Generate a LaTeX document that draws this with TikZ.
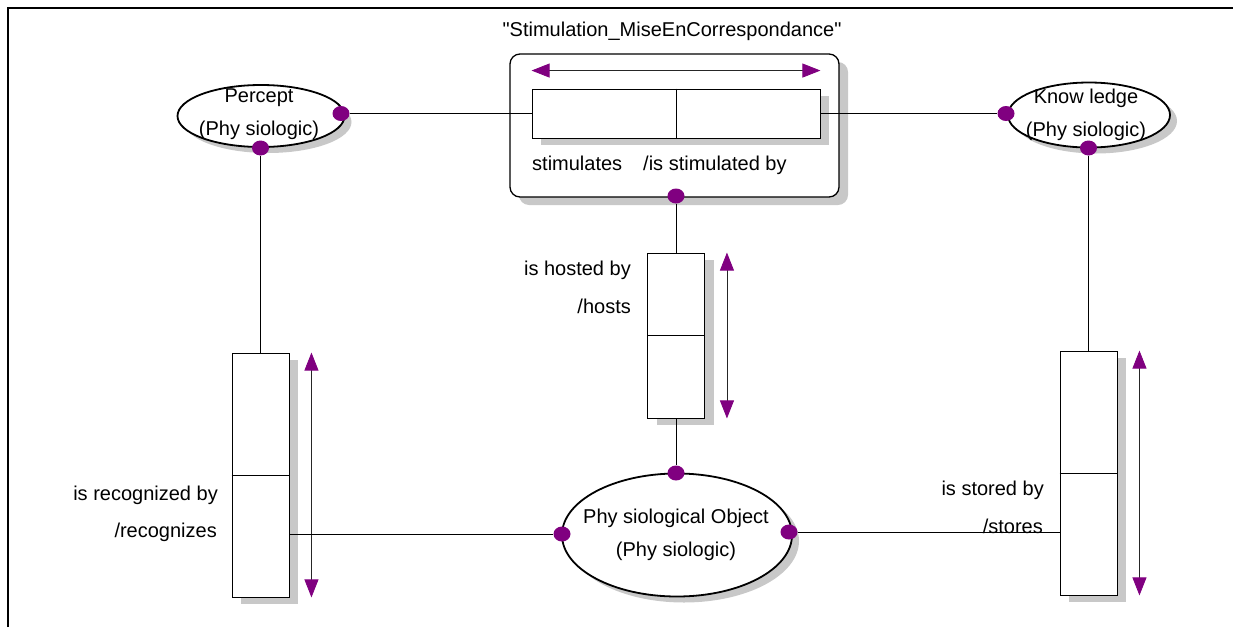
\documentclass[tikz,border=0pt]{standalone}
\usepackage{fontspec}
\setmainfont{Liberation Sans}
\usetikzlibrary{arrows.meta,positioning,calc,shapes.geometric,shadows}
\definecolor{RolePurple}{HTML}{800080}
\definecolor{ShadeGray}{HTML}{C8C8C8}

\begin{document}
\begin{tikzpicture}[
  x=1pt,y=-1pt,inner sep=0pt,
  font=\fontsize{20}{33}\selectfont,
  entity/.style={ellipse,draw,line width=1.8pt,fill=white,drop shadow={shadow xshift=7pt,shadow yshift=-6pt,fill=ShadeGray,opacity=1}},
  rolebox/.style={rectangle,draw,line width=0.9pt,fill=white,minimum width=57pt,drop shadow={shadow xshift=9pt,shadow yshift=-7pt,fill=ShadeGray,opacity=1}},
  stimframe/.style={rectangle,rounded corners=10pt,draw,line width=1.3pt,fill=white,minimum width=329pt,minimum height=143pt,drop shadow={shadow xshift=9pt,shadow yshift=-8pt,fill=ShadeGray,opacity=1}},
  joint/.style={ellipse,fill=RolePurple,minimum width=17pt,minimum height=15pt},
  link/.style={draw,line width=0.8pt},
  rolearrow/.style={{Triangle[length=18pt,width=14pt,color=RolePurple]}-{Triangle[length=18pt,width=14pt,color=RolePurple]},line width=0.8pt,draw=black!85}
]
\useasboundingbox (0,0) rectangle (1233,627);
\draw[line width=2.4pt] (8,627) -- (8,8) -- (1240,8);
\node[anchor=base] (title) at (672,36) {\textquotedbl Stimulation\_MiseEnCorrespondance\textquotedbl};
\node[stimframe] (stim) at (674.5,125.5) {};
\node[rolebox,minimum width=288pt,minimum height=49pt] (stimcell) at (676,113.5) {};
\draw[link] (stimcell.north) -- (stimcell.south);
\draw[rolearrow] ($(stimcell.north west)+(0,-18)$) -- ($(stimcell.north east)+(0,-18)$);
\node[anchor=base west] (stimtext) at (532,170) {stimulates\hspace{21pt}/is stimulated by};
\node[entity,minimum width=167pt,minimum height=62pt] (percept) at (261,116) {};
\node[align=center] (percepttext) at (259,114.5) {Percept\\(Phy siologic)};
\node[entity,minimum width=162pt,minimum height=65pt] (knowledge) at (1089,115) {};
\node[align=center] (knowledgetext) at (1086,114.5) {Know ledge\\(Phy siologic)};
\node[entity,minimum width=230pt,minimum height=123pt] (physio) at (677,535) {};
\node[align=center] (physiotext) at (676,535.3) {Phy siological Object\\(Phy siologic)};
\node[rolebox,minimum height=244pt] (recog) at (260.5,475) {};
\node[rolebox,minimum height=165pt] (host) at (676,335.5) {};
\node[rolebox,minimum height=244pt] (store) at (1088.5,473) {};
\foreach \b in {recog,host,store} {
  \draw[link] (\b.west) -- (\b.east);
  \draw[rolearrow] ($(\b.north east)+(22,0)$) -- ($(\b.south east)+(22,0)$);
}
\node[anchor=base east] (recogfwd) at (218,500) {is recognized by};
\node[anchor=base east] (recogrev) at (217,537) {/recognizes};
\node[anchor=base east] (hostfwd) at (631,275) {is hosted by};
\node[anchor=base east] (hostrev) at (631,313) {/hosts};
\node[anchor=base east] (storefwd) at (1044,495) {is stored by};
\node[anchor=base east] (storerev) at (1043,533) {/stores};
\node[joint] (perceptE) at (341,113.5) {};
\node[joint] (perceptS) at (260.5,148) {};
\node[joint] (knowledgeW) at (1006,113.5) {};
\node[joint] (knowledgeS) at (1088.5,148) {};
\node[joint] (stimS) at (676,196) {};
\node[joint] (physioN) at (676,473) {};
\node[joint] (physioW) at (562,534) {};
\node[joint] (physioE) at (789,532) {};
\draw[link] (perceptE) -- (stimcell.west); \draw[link] (stimcell.east) -- (knowledgeW);
\draw[link] (perceptS) -- (recog.north); \draw[link] (knowledgeS) -- (store.north);
\draw[link] (stimS) -- (host.north); \draw[link] (host.south) -- (physioN);
\draw[link] (recog.east |- physioW) -- (physioW);
\draw[link] (physioE) -- (physioE -| store.west);
\end{tikzpicture}
\end{document}
